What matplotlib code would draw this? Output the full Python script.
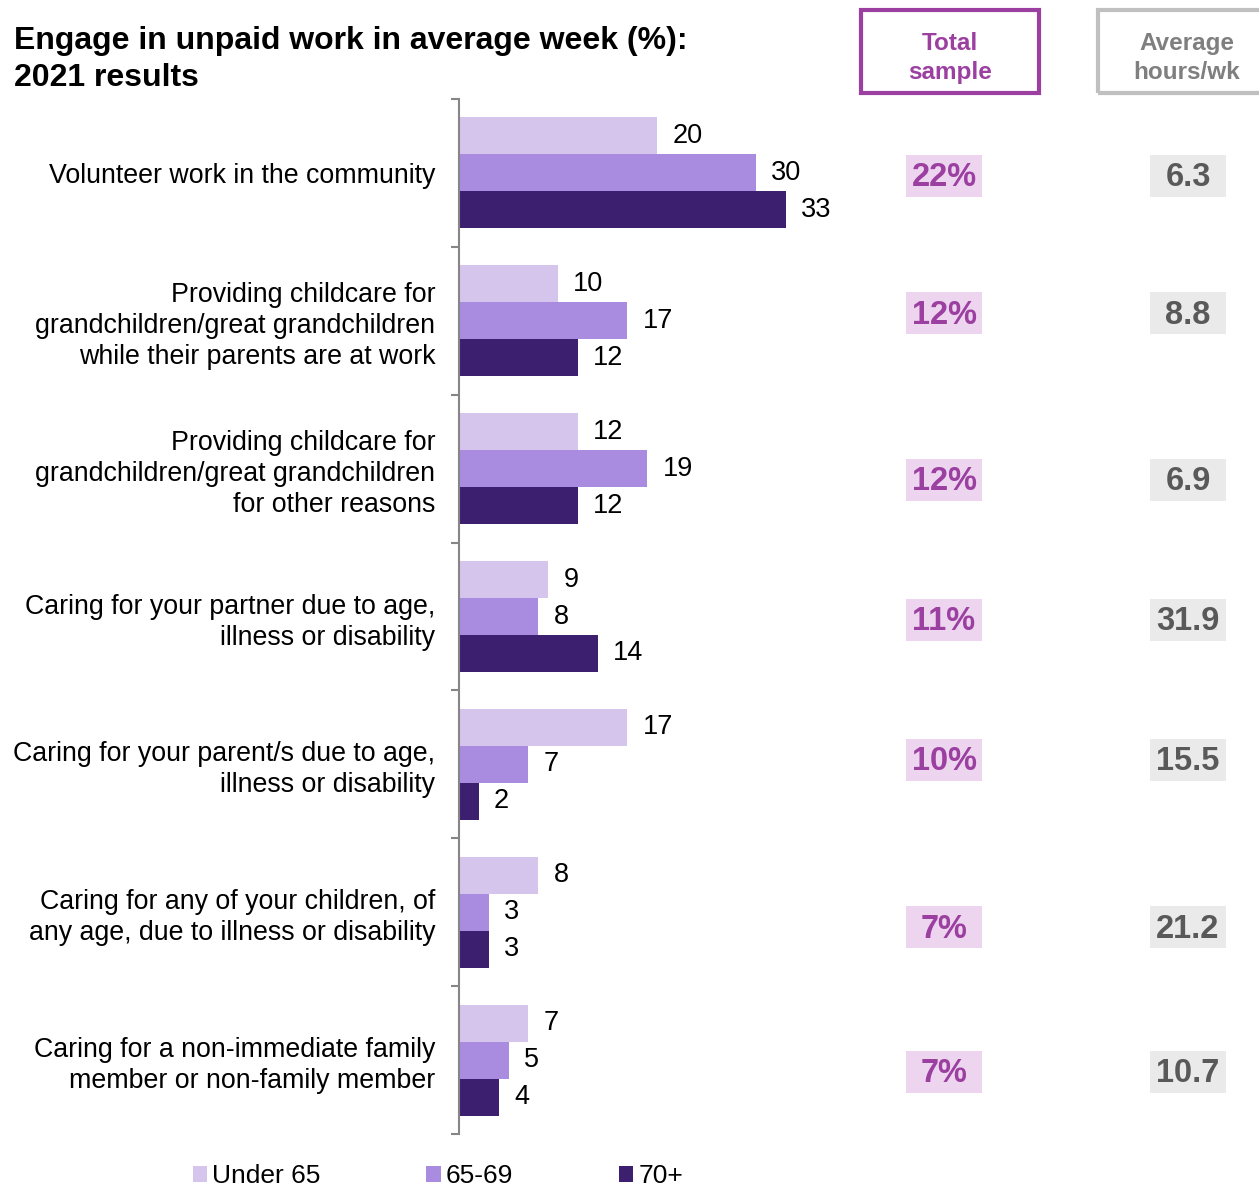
import matplotlib
matplotlib.use("Agg")
import matplotlib.pyplot as plt
import numpy as np
from matplotlib.patches import Rectangle

plt.rcParams['font.family'] = ['Liberation Sans', 'DejaVu Sans']

# data
categories = [
    "Volunteer work in the community",
    "Providing childcare for\ngrandchildren/great grandchildren\nwhile their parents are at work",
    "Providing childcare for\ngrandchildren/great grandchildren\nfor other reasons",
    "Caring for your partner due to age,\nillness or disability",
    "Caring for your parent/s due to age,\nillness or disability",
    "Caring for any of your children, of\nany age, due to illness or disability",
    "Caring for a non-immediate family\nmember or non-family member",
]
under_65 = [20, 10, 12, 9, 17, 8, 7]
age_65_69 = [30, 17, 19, 8, 7, 3, 5]
age_70_plus = [33, 12, 12, 14, 2, 3, 4]
series_names = ["Under 65", "65-69", "70+"]
total_sample = ["22%", "12%", "12%", "11%", "10%", "7%", "7%"]
avg_hours = ["6.3", "8.8", "6.9", "31.9", "15.5", "21.2", "10.7"]

colors = ["#D5C5EC", "#A98CE0", "#3C1F6E"]

W, H = 1259, 1186
fig = plt.figure(figsize=(W / 100, H / 100), dpi=100)


def fx(px):
    return px / W


def fy(py):
    return 1 - py / H


ax = fig.add_axes([fx(459), fy(1134), fx(855) - fx(459), fy(99) - fy(1134)])

y = np.arange(len(categories))
h = 0.25
for k, (vals, name) in enumerate(zip([under_65, age_65_69, age_70_plus], series_names)):
    bars = ax.barh(y + (k - 1) * h, vals, height=h, color=colors[k], label=name)
    ax.bar_label(bars, padding=11, fontsize=19.5, color="black")

ax.set_xlim(0, 40)
ax.set_ylim(len(categories) - 0.5, -0.5)
ax.set_xticks([])
ax.set_yticks(y)
ax.set_yticklabels(categories, fontsize=19.3, linespacing=1.25)
ax.tick_params(axis='y', which='major', length=0, pad=17)
ax.set_yticks(np.arange(len(categories) + 1) - 0.5, minor=True)
ax.tick_params(axis='y', which='minor', length=6, width=1.5, color="#868686")
for s in ["top", "right", "bottom"]:
    ax.spines[s].set_visible(False)
ax.spines["left"].set_color("#868686")
ax.spines["left"].set_linewidth(1.5)

# title
fig.text(fx(14), fy(26), "Engage in unpaid work in average week (%):\n2021 results",
         fontsize=23, fontweight="bold", va="top", ha="left", linespacing=1.32)

# column headers
fig.add_artist(Rectangle((fx(861), fy(93)), fx(178), fy(10) - fy(93), transform=fig.transFigure,
                         fill=False, edgecolor="#9B3FA0", linewidth=3))
fig.text(fx(950), fy(58), "Total\nsample", fontsize=17.5, fontweight="bold", color="#9B3FA0",
         ha="center", va="center", linespacing=1.37)
fig.add_artist(Rectangle((fx(1098), fy(93)), fx(180), fy(10) - fy(93), transform=fig.transFigure,
                         fill=False, edgecolor="#C0C0C0", linewidth=3))
fig.text(fx(1187), fy(58), "Average\nhours/wk", fontsize=17.5, fontweight="bold", color="#7F7F7F",
         ha="center", va="center", linespacing=1.37)

# side columns
row_px = [176, 313, 480, 620, 760, 927, 1072]
for ypx, ts, hr in zip(row_px, total_sample, avg_hours):
    fig.add_artist(Rectangle((fx(906), fy(ypx + 21)), fx(76), fy(ypx - 21) - fy(ypx + 21),
                             transform=fig.transFigure, facecolor="#EDD5F0", edgecolor="none"))
    fig.text(fx(944), fy(ypx + 2), ts, fontsize=23.5, fontweight="bold", color="#9B3FA0",
             ha="center", va="center")
    fig.add_artist(Rectangle((fx(1150), fy(ypx + 21)), fx(76), fy(ypx - 21) - fy(ypx + 21),
                             transform=fig.transFigure, facecolor="#EAEAEA", edgecolor="none"))
    fig.text(fx(1188), fy(ypx + 2), hr, fontsize=23.5, fontweight="bold", color="#595959",
             ha="center", va="center")

fig.legend(loc="center", bbox_to_anchor=(fx(438), fy(1176)), ncol=3, frameon=False,
           fontsize=19, handlelength=0.55, handleheight=0.55, handletextpad=0.2,
           columnspacing=4.0, borderpad=0)

fig.savefig("out.png", dpi=100)
